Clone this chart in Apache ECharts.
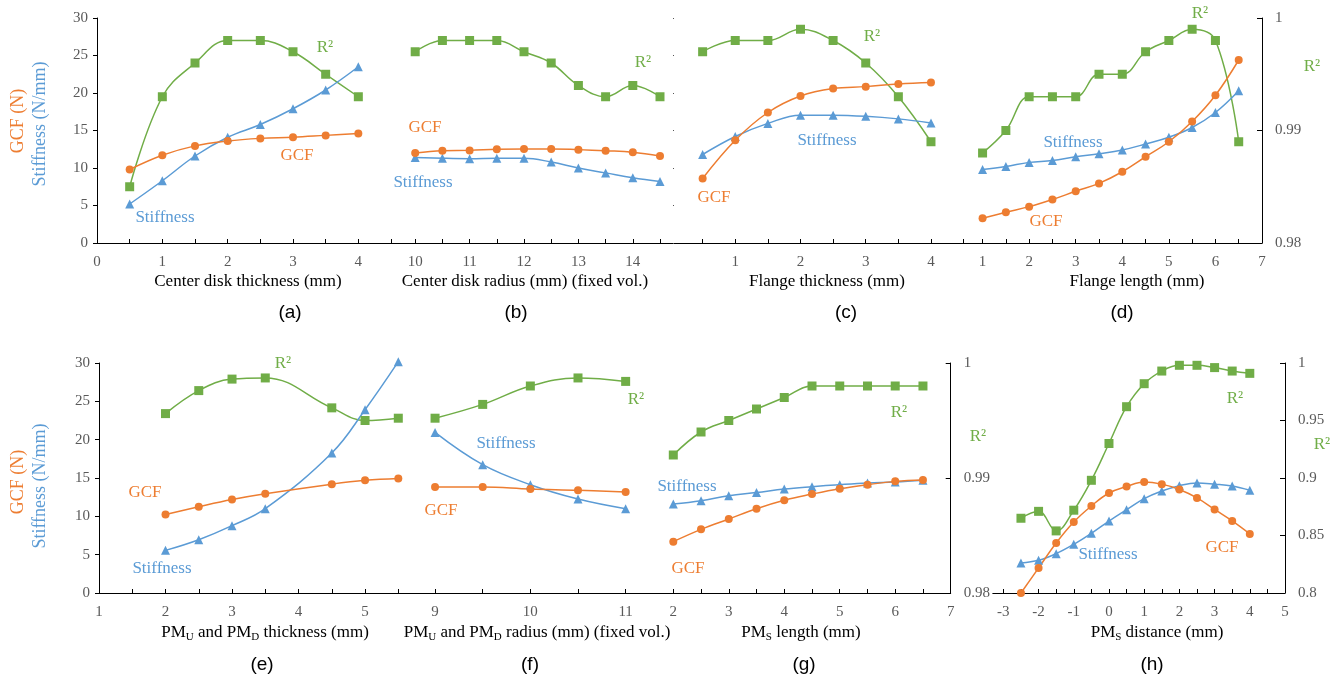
<!DOCTYPE html>
<html>
<head>
<meta charset="UTF-8">
<title></title>
<script src="https://cdn.jsdelivr.net/npm/echarts@6/dist/echarts.min.js"></script>
<style>
  body { margin: 0; background: #fff; }
</style>
</head>
<body>
<div id="container" style="width: 1342px; height: 681px;"></div>
<script type="text/javascript">
// data: x values, GCF (N), Stiffness (N/mm), R^2
var xA = [0.5, 1, 1.5, 2, 2.5, 3, 3.5, 4];
var gcfA = [9.8, 11.7, 12.95, 13.6, 13.95, 14.1, 14.35, 14.6];
var stfA = [5.2, 8.3, 11.6, 14.1, 15.8, 17.9, 20.4, 23.5];
var r2A = [0.985, 0.993, 0.996, 0.998, 0.998, 0.997, 0.995, 0.993];

var xB = [10, 10.5, 11, 11.5, 12, 12.5, 13, 13.5, 14, 14.5];
var gcfB = [12.0, 12.3, 12.35, 12.5, 12.55, 12.55, 12.45, 12.3, 12.1, 11.6];
var stfB = [11.4, 11.3, 11.25, 11.3, 11.3, 10.8, 10.0, 9.35, 8.7, 8.2];
var r2B = [0.997, 0.998, 0.998, 0.998, 0.997, 0.996, 0.994, 0.993, 0.994, 0.993];

var xC = [0.5, 1, 1.5, 2, 2.5, 3, 3.5, 4];
var gcfC = [8.6, 13.7, 17.4, 19.6, 20.6, 20.85, 21.2, 21.4];
var stfC = [11.8, 14.2, 15.95, 17.05, 17.05, 16.9, 16.55, 16.0];
var r2C = [0.997, 0.998, 0.998, 0.999, 0.998, 0.996, 0.993, 0.989];

var xD = [1, 1.5, 2, 2.5, 3, 3.5, 4, 4.5, 5, 5.5, 6, 6.5];
var gcfD = [3.3, 4.1, 4.85, 5.8, 6.9, 7.95, 9.5, 11.5, 13.5, 16.2, 19.7, 24.4];
var stfD = [9.8, 10.2, 10.75, 11.0, 11.5, 11.9, 12.4, 13.2, 14.1, 15.4, 17.4, 20.3];
var r2D = [0.988, 0.990, 0.993, 0.993, 0.993, 0.995, 0.995, 0.997, 0.998, 0.999, 0.998, 0.989];

var xE = [2, 2.5, 3, 3.5, 4.5, 5, 5.5];
var gcfE = [10.25, 11.26, 12.2, 12.95, 14.2, 14.7, 14.95];
var stfE = [5.56, 6.95, 8.78, 11.0, 18.26, 23.9, 30.17];
var r2E = [0.9956, 0.9976, 0.9986, 0.9987, 0.9961, 0.9950, 0.9952];

var xF = [9, 9.5, 10, 10.5, 11];
var gcfF = [13.83, 13.83, 13.56, 13.4, 13.17];
var stfF = [20.95, 16.74, 14.13, 12.26, 11.0];
var r2F = [0.9952, 0.9964, 0.9980, 0.9987, 0.9984];

var xG = [2, 2.5, 3, 3.5, 4, 4.5, 5, 5.5, 6, 6.5];
var gcfG = [6.7, 8.3, 9.65, 11.0, 12.1, 12.9, 13.6, 14.13, 14.56, 14.74];
var stfG = [11.6, 12.04, 12.7, 13.1, 13.56, 13.87, 14.13, 14.35, 14.48, 14.7];
var r2G = [0.992, 0.994, 0.995, 0.996, 0.997, 0.998, 0.998, 0.998, 0.998, 0.998];

var xH = [-2.5, -2, -1.5, -1, -0.5, 0, 0.5, 1, 1.5, 2, 2.5, 3, 3.5, 4];
var gcfH = [0.0, 3.26, 6.52, 9.26, 11.35, 13.04, 13.9, 14.48, 14.2, 13.5, 12.4, 10.9, 9.4, 7.7];
var stfH = [3.9, 4.26, 5.13, 6.35, 7.78, 9.39, 10.87, 12.3, 13.3, 14.0, 14.35, 14.2, 13.96, 13.4];
var r2H = [0.865, 0.871, 0.854, 0.872, 0.898, 0.930, 0.962, 0.982, 0.993, 0.998, 0.998, 0.996, 0.993, 0.991];

var SERIF = 'Liberation Serif';
var SANS = 'Liberation Sans';
var C_GCF = '#ED7D31', C_STF = '#5B9BD5', C_R2 = '#70AD47';

function steps(a, b, s) {
    var out = [];
    for (var v = a; v <= b + 1e-9; v += s) out.push(+v.toFixed(3));
    return out;
}

// panel layout (pixels) and axis ranges
var panels = [
    {left: 97, top: 18, width: 294, height: 225, xMin: 0, xMax: 4.5, labels: steps(0, 4, 1), ticks: steps(0, 4.5, 0.5),
     x: xA, gcf: gcfA, stf: stfA, r2: r2A, r2Min: 0.98, r2Max: 1, r2Int: 0.01, left_: true},
    {left: 388, top: 18, width: 285.6, height: 225, xMin: 9.5, xMax: 14.75, labels: steps(10, 14, 1), ticks: steps(10, 14.5, 0.5),
     x: xB, gcf: gcfB, stf: stfB, r2: r2B, r2Min: 0.98, r2Max: 1, r2Int: 0.01},
    {left: 670, top: 18, width: 293.6, height: 225, xMin: 0, xMax: 4.5, labels: steps(1, 4, 1), ticks: steps(0.5, 4.5, 0.5),
     x: xC, gcf: gcfC, stf: stfC, r2: r2C, r2Min: 0.98, r2Max: 1, r2Int: 0.01, dots_: true},
    {left: 936, top: 18, width: 326, height: 225, xMin: 0, xMax: 7, labels: steps(1, 7, 1), ticks: steps(1, 7, 0.5),
     x: xD, gcf: gcfD, stf: stfD, r2: r2D, r2Min: 0.98, r2Max: 1, r2Int: 0.01, right_: true},
    {left: 99, top: 363, width: 299.3, height: 230, xMin: 1, xMax: 5.5, labels: steps(1, 5, 1), ticks: steps(1, 5.5, 0.5),
     x: xE, gcf: gcfE, stf: stfE, r2: r2E, r2Min: 0.98, r2Max: 1, r2Int: 0.01, left_: true},
    {left: 387.4, top: 363, width: 285.9, height: 230, xMin: 8.5, xMax: 11.5, labels: steps(9, 11, 1), ticks: steps(9, 11.5, 0.5),
     x: xF, gcf: gcfF, stf: stfF, r2: r2F, r2Min: 0.98, r2Max: 1, r2Int: 0.01},
    {left: 673.3, top: 363, width: 277.4, height: 230, xMin: 2, xMax: 7, labels: steps(2, 7, 1), ticks: steps(2, 7, 0.5),
     x: xG, gcf: gcfG, stf: stfG, r2: r2G, r2Min: 0.98, r2Max: 1, r2Int: 0.01, right_: true},
    {left: 992.8, top: 363, width: 292.2, height: 230, xMin: -3.3, xMax: 5, labels: steps(-3, 5, 1), ticks: steps(-3, 5, 0.5),
     x: xH, gcf: gcfH, stf: stfH, r2: r2H, r2Min: 0.8, r2Max: 1, r2Int: 0.05, right_: true}
];

var tickLabel = {fontFamily: SERIF, fontSize: 15, color: '#595959'};
var axisLine = {show: true, lineStyle: {color: '#000', width: 1}};

var grids = [], xAxes = [], yAxes = [], series = [];

function pairs(xs, ys) {
    return xs.map(function (x, i) { return [x, ys[i]]; });
}

panels.forEach(function (p, i) {
    grids.push({left: p.left, top: p.top, width: p.width, height: p.height, outerBoundsMode: 'none'});
    xAxes.push({
        type: 'value', gridIndex: i, min: p.xMin, max: p.xMax,
        axisLine: axisLine, splitLine: {show: false},
        axisTick: {show: true, inside: true, length: 4, customValues: p.ticks, lineStyle: {color: '#000'}},
        axisLabel: Object.assign({customValues: p.labels, margin: 12}, tickLabel)
    });
    var leftAxis = {
        type: 'value', gridIndex: i, position: 'left', min: 0, max: 30, interval: 5,
        show: !!p.left_, axisLine: axisLine, splitLine: {show: false},
        axisTick: {show: true, length: 4, lineStyle: {color: '#000'}},
        axisLabel: Object.assign({margin: 9}, tickLabel)
    };
    if (p.dots_) {
        // faint leftover tick marks of a hidden axis
        leftAxis = {
            type: 'value', gridIndex: i, position: 'left', min: 0, max: 30, interval: 5, offset: -4,
            axisLine: {show: false}, splitLine: {show: false}, axisLabel: {show: false},
            axisTick: {show: true, length: 1, lineStyle: {color: '#555'}}
        };
    }
    yAxes.push(leftAxis);
    yAxes.push({
        type: 'value', gridIndex: i, position: 'right', min: p.r2Min, max: p.r2Max, interval: p.r2Int,
        show: !!p.right_, axisLine: axisLine, splitLine: {show: false},
        axisTick: {show: true, inside: true, length: 5, lineStyle: {color: '#000'}},
        axisLabel: Object.assign({margin: 13}, tickLabel)
    });
    var common = {type: 'line', xAxisIndex: i, smooth: 0.4, clip: false, symbolSize: 8, z: 3};
    series.push(Object.assign({}, common, {
        name: 'R2', yAxisIndex: 2 * i + 1, data: pairs(p.x, p.r2), symbol: 'rect', symbolSize: 9,
        itemStyle: {color: C_R2}, lineStyle: {color: C_R2, width: 1.5}
    }));
    series.push(Object.assign({}, common, {
        name: 'Stiffness', yAxisIndex: 2 * i, data: pairs(p.x, p.stf), symbol: 'triangle', symbolSize: 9,
        itemStyle: {color: C_STF}, lineStyle: {color: C_STF, width: 1.5}
    }));
    series.push(Object.assign({}, common, {
        name: 'GCF', yAxisIndex: 2 * i, data: pairs(p.x, p.gcf), symbol: 'circle',
        itemStyle: {color: C_GCF}, lineStyle: {color: C_GCF, width: 1.5}
    }));
});

// text placed on the figure: [text, colour, x, y]
var notes = [
    ['R²', C_R2, 325, 48], ['GCF', C_GCF, 297, 156], ['Stiffness', C_STF, 165, 218],
    ['GCF', C_GCF, 425, 128], ['Stiffness', C_STF, 423, 183], ['R²', C_R2, 643, 63],
    ['R²', C_R2, 872, 37], ['Stiffness', C_STF, 827, 141], ['GCF', C_GCF, 714, 198],
    ['R²', C_R2, 1200, 14], ['Stiffness', C_STF, 1073, 143], ['GCF', C_GCF, 1046, 222], ['R²', C_R2, 1312, 67],
    ['R²', C_R2, 283, 364], ['GCF', C_GCF, 145, 493], ['Stiffness', C_STF, 162, 569],
    ['R²', C_R2, 636, 400], ['Stiffness', C_STF, 506, 444], ['GCF', C_GCF, 441, 511],
    ['Stiffness', C_STF, 687, 487], ['R²', C_R2, 899, 413], ['GCF', C_GCF, 688, 569],
    ['R²', C_R2, 978, 437], ['R²', C_R2, 1235, 399], ['Stiffness', C_STF, 1108, 555],
    ['GCF', C_GCF, 1222, 548], ['R²', C_R2, 1322, 445]
];

var subRich = {
    n: {fontFamily: SERIF, fontSize: 17, color: '#000', lineHeight: 20},
    s: {fontFamily: SERIF, fontSize: 11, color: '#000', lineHeight: 20, padding: [9, 0, 0, 0]}
};
var xNames = [
    ['Center disk thickness (mm)', 248, 282], ['Center disk radius (mm) (fixed vol.)', 525, 282],
    ['Flange thickness (mm)', 827, 282], ['Flange length (mm)', 1137, 282],
    ['{n|PM}{s|U}{n| and PM}{s|D}{n| thickness (mm)}', 265, 633],
    ['{n|PM}{s|U}{n| and PM}{s|D}{n| radius (mm) (fixed vol.)}', 537, 633],
    ['{n|PM}{s|S}{n| length (mm)}', 801, 633], ['{n|PM}{s|S}{n| distance (mm)}', 1157, 633]
];
var captions = [
    ['(a)', 290, 313], ['(b)', 516, 313], ['(c)', 846, 313], ['(d)', 1122, 313],
    ['(e)', 262, 665], ['(f)', 530, 665], ['(g)', 804, 665], ['(h)', 1152, 665]
];

var graphics = [];
notes.forEach(function (t) {
    graphics.push({type: 'text', x: t[2], y: t[3], z: 10, style: {
        text: t[0], fill: t[1], font: '17px "' + SERIF + '"', align: 'center', verticalAlign: 'middle'}});
});
xNames.forEach(function (t) {
    graphics.push({type: 'text', x: t[1], y: t[2], style: {
        text: t[0], fill: '#000', font: '17px "' + SERIF + '"', rich: subRich, align: 'center', verticalAlign: 'middle'}});
});
captions.forEach(function (t) {
    graphics.push({type: 'text', x: t[1], y: t[2], style: {
        text: t[0], fill: '#000', font: '19px "' + SANS + '"', align: 'center', verticalAlign: 'middle'}});
});
// rotated y-axis titles, top and bottom rows
[[121, 124], [482, 486]].forEach(function (yy) {
    graphics.push({type: 'text', x: 18, y: yy[0], rotation: Math.PI / 2, style: {
        text: 'GCF (N)', fill: C_GCF, font: '18px "' + SERIF + '"', align: 'center', verticalAlign: 'middle'}});
    graphics.push({type: 'text', x: 40, y: yy[1], rotation: Math.PI / 2, style: {
        text: 'Stiffness (N/mm)', fill: C_STF, font: '18px "' + SERIF + '"', align: 'center', verticalAlign: 'middle'}});
});

var mychart = echarts.init(document.getElementById('container'));
mychart.setOption({
    animation: false,
    grid: grids,
    xAxis: xAxes,
    yAxis: yAxes,
    series: series,
    graphic: graphics
});
</script>
</body>
</html>
